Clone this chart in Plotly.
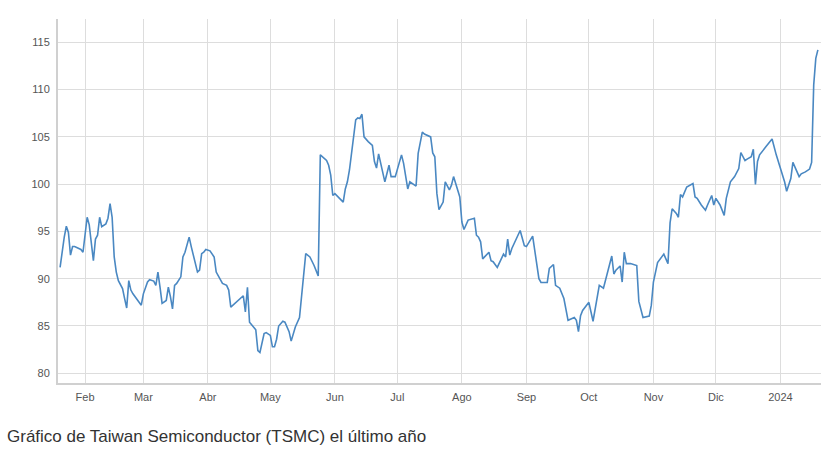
import plotly.graph_objects as go

dates = [
    "2023-01-20", "2023-01-21", "2023-01-22", "2023-01-23", "2023-01-24", "2023-01-25", "2023-01-26", "2023-01-27",
    "2023-01-29", "2023-01-30", "2023-01-31",
    "2023-02-02", "2023-02-03", "2023-02-04", "2023-02-05", "2023-02-06", "2023-02-07", "2023-02-08", "2023-02-09",
    "2023-02-11", "2023-02-12", "2023-02-13", "2023-02-14", "2023-02-15", "2023-02-16", "2023-02-17", "2023-02-19",
    "2023-02-20", "2023-02-21", "2023-02-22", "2023-02-23", "2023-02-24", "2023-02-27", "2023-02-28",
    "2023-03-01", "2023-03-03", "2023-03-04", "2023-03-06", "2023-03-07", "2023-03-08", "2023-03-09", "2023-03-10",
    "2023-03-12", "2023-03-13", "2023-03-14", "2023-03-15", "2023-03-16", "2023-03-17", "2023-03-19", "2023-03-20",
    "2023-03-21", "2023-03-23", "2023-03-24", "2023-03-26", "2023-03-27", "2023-03-28", "2023-03-29", "2023-03-30",
    "2023-03-31",
    "2023-04-02", "2023-04-04", "2023-04-05", "2023-04-07", "2023-04-08", "2023-04-10", "2023-04-11", "2023-04-12",
    "2023-04-13", "2023-04-18", "2023-04-19", "2023-04-20", "2023-04-21", "2023-04-23", "2023-04-24", "2023-04-25",
    "2023-04-26", "2023-04-28", "2023-04-29",
    "2023-05-01", "2023-05-02", "2023-05-03", "2023-05-04", "2023-05-05", "2023-05-07", "2023-05-08", "2023-05-10",
    "2023-05-11", "2023-05-13", "2023-05-15", "2023-05-17", "2023-05-18", "2023-05-20", "2023-05-22", "2023-05-24",
    "2023-05-25", "2023-05-28", "2023-05-29", "2023-05-30", "2023-05-31",
    "2023-06-01", "2023-06-03", "2023-06-05", "2023-06-06", "2023-06-07", "2023-06-08", "2023-06-10", "2023-06-11",
    "2023-06-12", "2023-06-13", "2023-06-14", "2023-06-15", "2023-06-17", "2023-06-19", "2023-06-20", "2023-06-21",
    "2023-06-22", "2023-06-23", "2023-06-25", "2023-06-27", "2023-06-28", "2023-06-30",
    "2023-07-01", "2023-07-03", "2023-07-04", "2023-07-06", "2023-07-07", "2023-07-09", "2023-07-10", "2023-07-11",
    "2023-07-13", "2023-07-14", "2023-07-17", "2023-07-18", "2023-07-19", "2023-07-20", "2023-07-21", "2023-07-23",
    "2023-07-24", "2023-07-26", "2023-07-27", "2023-07-28", "2023-07-30", "2023-07-31",
    "2023-08-01", "2023-08-02", "2023-08-04", "2023-08-07", "2023-08-08", "2023-08-09", "2023-08-10", "2023-08-11",
    "2023-08-14", "2023-08-15", "2023-08-16", "2023-08-18", "2023-08-21", "2023-08-22", "2023-08-23", "2023-08-24",
    "2023-08-25", "2023-08-27", "2023-08-29", "2023-08-31",
    "2023-09-01", "2023-09-04", "2023-09-05", "2023-09-07", "2023-09-08", "2023-09-11", "2023-09-12", "2023-09-14",
    "2023-09-15", "2023-09-17", "2023-09-19", "2023-09-21", "2023-09-24", "2023-09-25", "2023-09-26", "2023-09-27",
    "2023-09-28",
    "2023-10-01", "2023-10-03", "2023-10-04", "2023-10-06", "2023-10-08", "2023-10-11", "2023-10-12", "2023-10-13",
    "2023-10-14", "2023-10-16", "2023-10-17", "2023-10-18", "2023-10-19", "2023-10-21", "2023-10-24", "2023-10-25",
    "2023-10-27", "2023-10-30", "2023-10-31",
    "2023-11-01", "2023-11-03", "2023-11-06", "2023-11-08", "2023-11-09", "2023-11-10", "2023-11-12", "2023-11-13",
    "2023-11-14", "2023-11-15", "2023-11-17", "2023-11-20", "2023-11-21", "2023-11-22", "2023-11-24", "2023-11-26",
    "2023-11-27", "2023-11-29", "2023-11-30",
    "2023-12-01", "2023-12-03", "2023-12-05", "2023-12-06", "2023-12-08", "2023-12-10", "2023-12-12", "2023-12-13",
    "2023-12-15", "2023-12-16", "2023-12-18", "2023-12-19", "2023-12-20", "2023-12-21", "2023-12-22", "2023-12-25",
    "2023-12-27", "2023-12-28", "2023-12-30",
    "2024-01-01", "2024-01-03", "2024-01-04", "2024-01-06", "2024-01-07", "2024-01-09", "2024-01-10", "2024-01-11",
    "2024-01-13", "2024-01-15", "2024-01-16", "2024-01-17", "2024-01-18", "2024-01-19",
]

prices = [
    91.2, 93.0, 94.4, 95.55, 94.9, 92.5, 93.4, 93.4,
    93.2, 93.1, 92.8,
    96.5, 95.7, 93.4, 91.9, 94.2, 94.6, 96.5, 95.5,
    95.8, 96.4, 97.95, 96.5, 92.3, 90.7, 89.8, 88.95,
    87.9, 86.9, 89.8, 88.8, 88.4, 87.4, 87.2,
    88.4, 89.65, 89.9, 89.75, 89.3, 90.7, 89.1, 87.4,
    87.7, 89.1, 88.1, 86.8, 89.3, 89.5, 90.2, 92.3,
    92.8, 94.4, 93.4, 91.6, 90.7, 90.9, 92.65, 92.8,
    93.1,
    92.95, 92.3, 90.7, 90.0, 89.5, 89.3, 88.8, 87.0,
    87.2, 88.2, 86.5, 89.1, 85.4, 84.8, 84.6, 82.4,
    82.2, 84.2, 84.3,
    84.0, 82.8, 82.8, 83.6, 85.0, 85.5, 85.4, 84.4,
    83.4, 84.9, 85.9, 90.7, 92.65, 92.3, 91.4, 90.3,
    103.1, 102.5, 102.0, 100.95, 98.8,
    99.0, 98.55, 98.1, 99.5, 100.25, 101.5, 104.9, 106.8,
    107.0, 106.95, 107.4, 105.0, 104.5, 104.1, 102.4, 101.7,
    103.2, 102.2, 100.25, 102.0, 100.8, 100.8,
    101.5, 103.1, 102.2, 99.5, 100.25, 99.9, 99.8, 103.25,
    105.5, 105.3, 105.0, 103.3, 102.9, 99.0, 97.3, 98.1,
    100.25, 99.4, 99.9, 100.8, 99.5, 98.65,
    96.0, 95.2, 96.2, 96.4, 94.6, 94.4, 93.9, 92.1,
    92.8, 91.9, 91.8, 91.2, 92.6, 92.3, 94.2, 92.5,
    93.2, 94.1, 95.1, 93.5,
    93.4, 94.5, 92.8, 90.0, 89.6, 89.6, 91.1, 91.5,
    89.3, 89.0, 87.9, 85.6, 85.9, 85.6, 84.4, 86.1,
    86.65,
    87.5, 85.5, 86.8, 89.3, 89.0, 91.8, 92.4, 90.5,
    90.9, 91.35, 89.65, 92.8, 91.6, 91.6, 91.4, 87.6,
    85.9, 86.05, 87.2,
    89.65, 91.7, 92.6, 91.6, 95.9, 97.4, 96.9, 96.5,
    98.9, 98.65, 99.7, 100.07, 98.65, 98.5, 97.8, 97.25,
    97.8, 98.8, 97.8,
    98.5, 97.8, 96.7, 98.5, 100.25, 100.8, 101.65, 103.35,
    102.5, 102.65, 102.9, 103.7, 99.97, 102.4, 103.1, 103.95,
    104.55, 104.77, 103.1,
    101.65, 100.25, 99.25, 100.6, 102.3, 101.3, 100.8, 101.1,
    101.3, 101.6, 102.3, 110.5, 113.3, 114.2,
]

tick_dates = ["2023-02-01", "2023-03-01", "2023-04-01", "2023-05-01", "2023-06-01", "2023-07-01",
              "2023-08-01", "2023-09-01", "2023-10-01", "2023-11-01", "2023-12-01", "2024-01-01"]
tick_labels = ["Feb", "Mar", "Abr", "May", "Jun", "Jul", "Ago", "Sep", "Oct", "Nov", "Dic", "2024"]
y_ticks = [80, 85, 90, 95, 100, 105, 110, 115]

caption = "Gráfico de Taiwan Semiconductor (TSMC) el último año"

fig = go.Figure()
fig.add_trace(go.Scatter(
    x=dates, y=prices, mode="lines",
    line=dict(color="#4a88c2", width=1.6),
    hoverinfo="x+y", showlegend=False,
))

fig.update_layout(
    width=828, height=452,
    margin=dict(l=58, r=7, t=19, b=69),
    paper_bgcolor="white", plot_bgcolor="white",
    font=dict(family="Liberation Sans, Arial, sans-serif", color="#555555", size=11),
    xaxis=dict(
        type="date",
        range=["2023-01-19", "2024-01-20 12:00"],
        tickmode="array", tickvals=tick_dates, ticktext=tick_labels,
        showgrid=True, gridcolor="#dddddd", gridwidth=1,
        showline=True, linecolor="#d0d0d0", linewidth=2,
        ticks="", ticklabelstandoff=3,
        tickfont=dict(size=11, color="#555555"),
        zeroline=False, fixedrange=True,
    ),
    yaxis=dict(
        range=[78.97, 117.47],
        tickmode="array", tickvals=y_ticks,
        showgrid=True, gridcolor="#dddddd", gridwidth=1,
        showline=True, linecolor="#d0d0d0", linewidth=2,
        ticks="", ticklabelstandoff=4,
        tickfont=dict(size=11, color="#555555"),
        zeroline=False, fixedrange=True,
    ),
    annotations=[dict(
        text=caption, xref="paper", yref="paper",
        x=-58 / 763 + 5 / 763, y=(383 - 437) / 364,
        xanchor="left", yanchor="middle", showarrow=False,
        font=dict(size=17, color="#333333", family="Liberation Sans, Arial, sans-serif"),
    )],
)

fig.write_html("out.html")
